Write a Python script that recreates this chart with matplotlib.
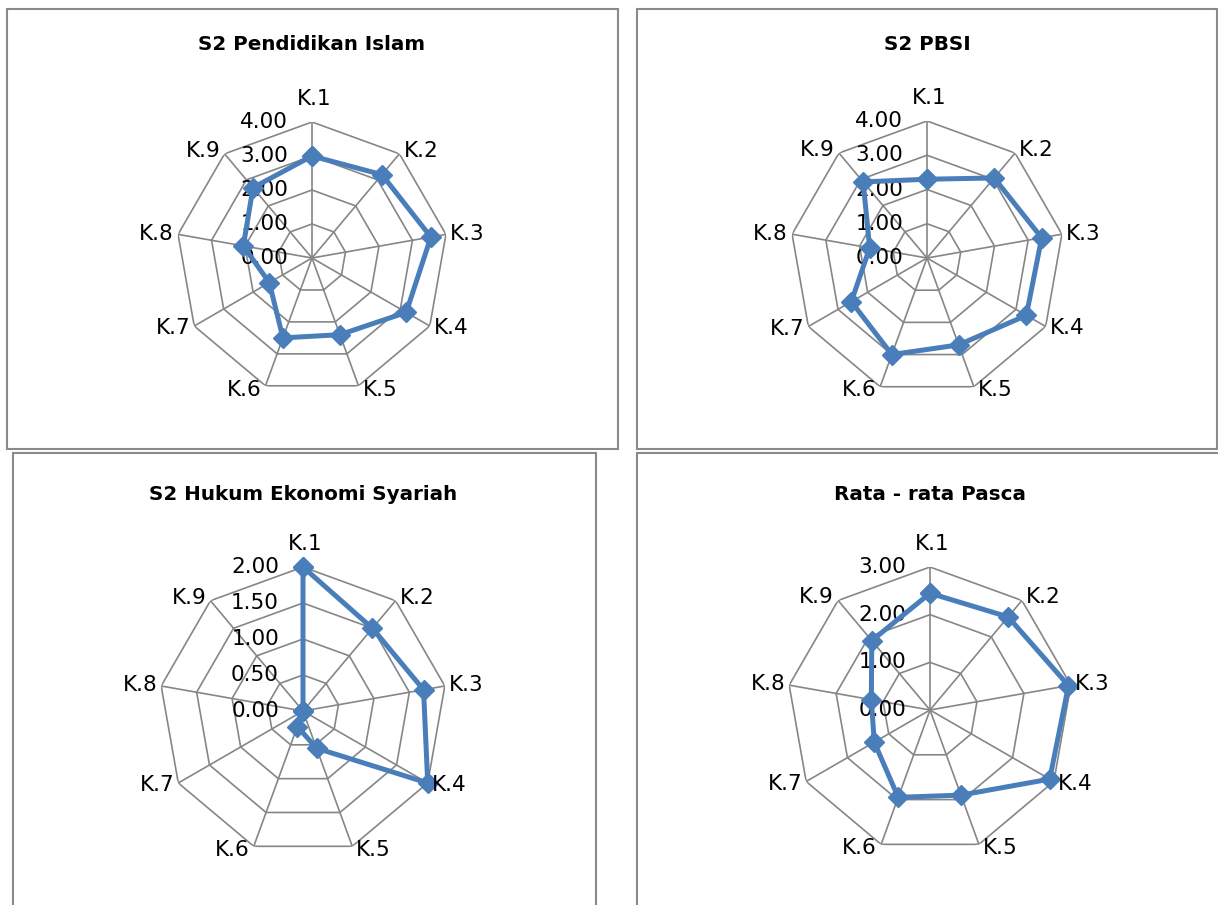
import numpy as np
import matplotlib.pyplot as plt
from matplotlib.patches import Rectangle

categories = ['K.1', 'K.2', 'K.3', 'K.4', 'K.5', 'K.6', 'K.7', 'K.8', 'K.9']

pendidikan_islam = [3.00, 3.20, 3.55, 3.20, 2.40, 2.50, 1.45, 2.05, 2.70]
pbsi = [2.30, 3.05, 3.40, 3.35, 2.70, 3.00, 2.55, 1.70, 2.90]
hukum_ekonomi = [2.00, 1.50, 1.70, 2.00, 0.55, 0.23, 0.00, 0.00, 0.00]
rata_rata = [2.45, 2.55, 2.95, 2.90, 1.90, 1.95, 1.35, 1.25, 1.90]

titles = ['S2 Pendidikan Islam', 'S2 PBSI', 'S2 Hukum Ekonomi Syariah', 'Rata - rata Pasca']
ticks_pi = [0, 1, 2, 3, 4]
ticks_pbsi = [0, 1, 2, 3, 4]
ticks_hes = [0, 0.5, 1.0, 1.5, 2.0]
ticks_rata = [0, 1, 2, 3]

W, H = 1218, 905
GRID = '#868686'
LINE = '#4A7EBB'
FS = 15.5

fig = plt.figure(figsize=(W / 100, H / 100), dpi=100)


def box(x0, y0, x1, y1):
    # pixel box -> figure fraction
    r = Rectangle((x0 / W, 1 - y1 / H), (x1 - x0) / W, (y1 - y0) / H,
                  transform=fig.transFigure, fill=False, edgecolor='#8a8a8a',
                  lw=1.5, clip_on=False)
    fig.add_artist(r)


def radar(cx, cy, R, values, ticks, title, ty):
    ax = fig.add_axes([(cx - R) / W, 1 - (cy + R) / H, 2 * R / W, 2 * R / H],
                      projection='polar')
    ax.set_theta_zero_location('N')
    ax.set_theta_direction(-1)
    rmax = ticks[-1]
    ax.set_ylim(0, rmax)
    ax.set_xticks([])
    ax.set_yticks([])
    ax.grid(False)
    ax.spines['polar'].set_visible(False)
    ax.patch.set_alpha(0)

    n = len(categories)
    ang = np.arange(n) * 2 * np.pi / n
    closed = np.append(ang, ang[0])

    # polygon grid + spokes
    for t in ticks[1:]:
        ax.plot(closed, [t] * (n + 1), color=GRID, lw=1.2, zorder=1)
    for a in ang:
        ax.plot([a, a], [0, rmax], color=GRID, lw=1.2, zorder=1)

    # series
    ax.plot(closed, values + values[:1], color=LINE, lw=3.6, marker='D',
            markersize=10, zorder=3, clip_on=False)

    # category labels
    for a, lab in zip(ang, categories):
        s, c = np.sin(a), np.cos(a)
        if abs(s) < 0.1:
            ax.annotate(lab, xy=(a, rmax), xytext=(2, 13), textcoords='offset pixels',
                        ha='center', va='bottom', fontsize=FS, annotation_clip=False)
        else:
            ha = 'left' if s > 0 else 'right'
            ax.annotate(lab, xy=(a, rmax), xytext=(4 * np.sign(s), 4 * c),
                        textcoords='offset pixels', ha=ha, va='center',
                        fontsize=FS, annotation_clip=False)

    # radial value labels
    for t in ticks:
        ax.annotate(f'{t:.2f}', xy=(0, t), xytext=(-24, 0), textcoords='offset pixels',
                    ha='right', va='center', fontsize=FS, annotation_clip=False,
                    zorder=2)

    fig.text(cx / W, 1 - ty / H, title, ha='center', va='center',
             fontsize=14.3, fontweight='bold')


box(7, 9, 618, 449)
box(637, 9, 1217, 449)
box(13, 453, 596, 1000)
box(637, 453, 1300, 1000)

radar(312, 258, 136, pendidikan_islam, ticks_pi, titles[0], 45)
radar(927, 258, 137, pbsi, ticks_pbsi, titles[1], 45)
radar(303, 711, 144, hukum_ekonomi, ticks_hes, titles[2], 494)
radar(930, 710, 143, rata_rata, ticks_rata, titles[3], 494)

plt.savefig('out.png', dpi=100)
